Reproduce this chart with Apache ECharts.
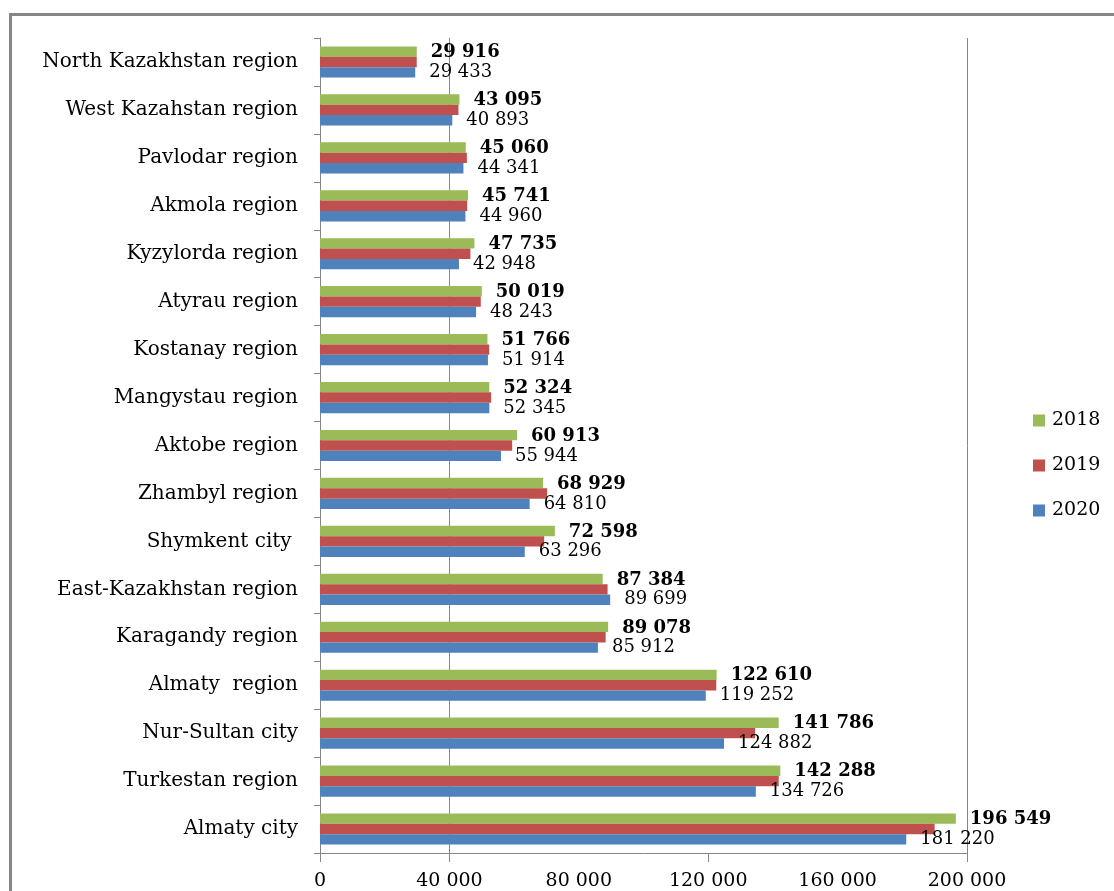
<!DOCTYPE html>
<html>
<head>
<meta charset="utf-8">
<script src="https://cdn.jsdelivr.net/npm/echarts@6/dist/echarts.min.js"></script>
<style>
html,body{margin:0;padding:0;background:#fff;}
#wrap{position:relative;width:1114px;height:891px;overflow:hidden;}
#chart{position:absolute;left:0;top:0;width:1114px;height:891px;}
#frame{position:absolute;left:9px;top:13px;width:1200px;height:1000px;border:3px solid #868686;box-sizing:border-box;pointer-events:none;}
</style>
</head>
<body>
<div id="wrap"><div id="frame"></div><div id="chart"></div></div>
<script>
const categories = ['North Kazakhstan region','West Kazahstan region','Pavlodar region','Akmola region','Kyzylorda region','Atyrau region','Kostanay region','Mangystau region','Aktobe region','Zhambyl region','Shymkent city ','East-Kazakhstan region','Karagandy region','Almaty  region','Nur-Sultan city','Turkestan region','Almaty city'];
const seriesNames = ['2018','2019','2020'];
const v2018 = [29916,43095,45060,45741,47735,50019,51766,52324,60913,68929,72598,87384,89078,122610,141786,142288,196549];
const v2019 = [29900,42800,45400,45500,46500,49700,52300,52900,59400,70200,69300,88900,88300,122500,134500,141800,190000];
const v2020 = [29433,40893,44341,44960,42948,48243,51914,52345,55944,64810,63296,89699,85912,119252,124882,134726,181220];
const xTicks = [0,40000,80000,120000,160000,200000];
const gridTicks = [0,40000,120000,200000];

const fmt = v => String(v).replace(/\B(?=(\d{3})+(?!\d))/g,' ');
const FONT = '"DejaVu Serif",serif';
const chart = echarts.init(document.getElementById('chart'));
chart.setOption({
  animation:false,
  backgroundColor:'transparent',
  legend:{
    orient:'vertical', left:1033, top:411, itemWidth:12, itemHeight:12, itemGap:26, padding:0,
    icon:'rect', data:seriesNames,
    textStyle:{fontFamily:FONT,fontSize:19,color:'#000',padding:[0,0,0,2]}
  },
  grid:{left:320,right:147,top:38,bottom:38,containLabel:false},
  xAxis:{
    type:'value', min:0, max:200000, interval:40000,
    axisLine:{show:true,lineStyle:{color:'#868686',width:1}},
    axisTick:{show:true,length:9,customValues:gridTicks,lineStyle:{color:'#868686'}},
    axisLabel:{fontFamily:FONT,fontSize:19,color:'#000',margin:19,customValues:xTicks,formatter:v=>fmt(v)},
    splitLine:{show:true,lineStyle:{color:['transparent','#868686','transparent','#868686','transparent','#868686'],width:1}}
  },
  yAxis:{
    type:'category', data:categories, inverse:true,
    axisLine:{show:true,lineStyle:{color:'#868686',width:1}},
    axisTick:{show:true,length:6,lineStyle:{color:'#868686'}},
    axisLabel:{fontFamily:FONT,fontSize:20,color:'#000',margin:22}
  },
  series:[
    {name:'2018',type:'bar',data:v2018,barGap:'0%',barCategoryGap:'35%',itemStyle:{color:'#9BBB59'},
     label:{show:true,position:'right',distance:14,offset:[0,1],fontFamily:FONT,fontSize:18,fontWeight:'bold',color:'#000',formatter:p=>fmt(p.value)}},
    {name:'2019',type:'bar',data:v2019,barGap:'0%',barCategoryGap:'35%',itemStyle:{color:'#C0504D'}},
    {name:'2020',type:'bar',data:v2020,barGap:'0%',barCategoryGap:'35%',itemStyle:{color:'#4F81BD'},
     label:{show:true,position:'right',distance:14,fontFamily:FONT,fontSize:18,color:'#000',formatter:p=>fmt(p.value)}}
  ]
});
</script>
</body>
</html>
